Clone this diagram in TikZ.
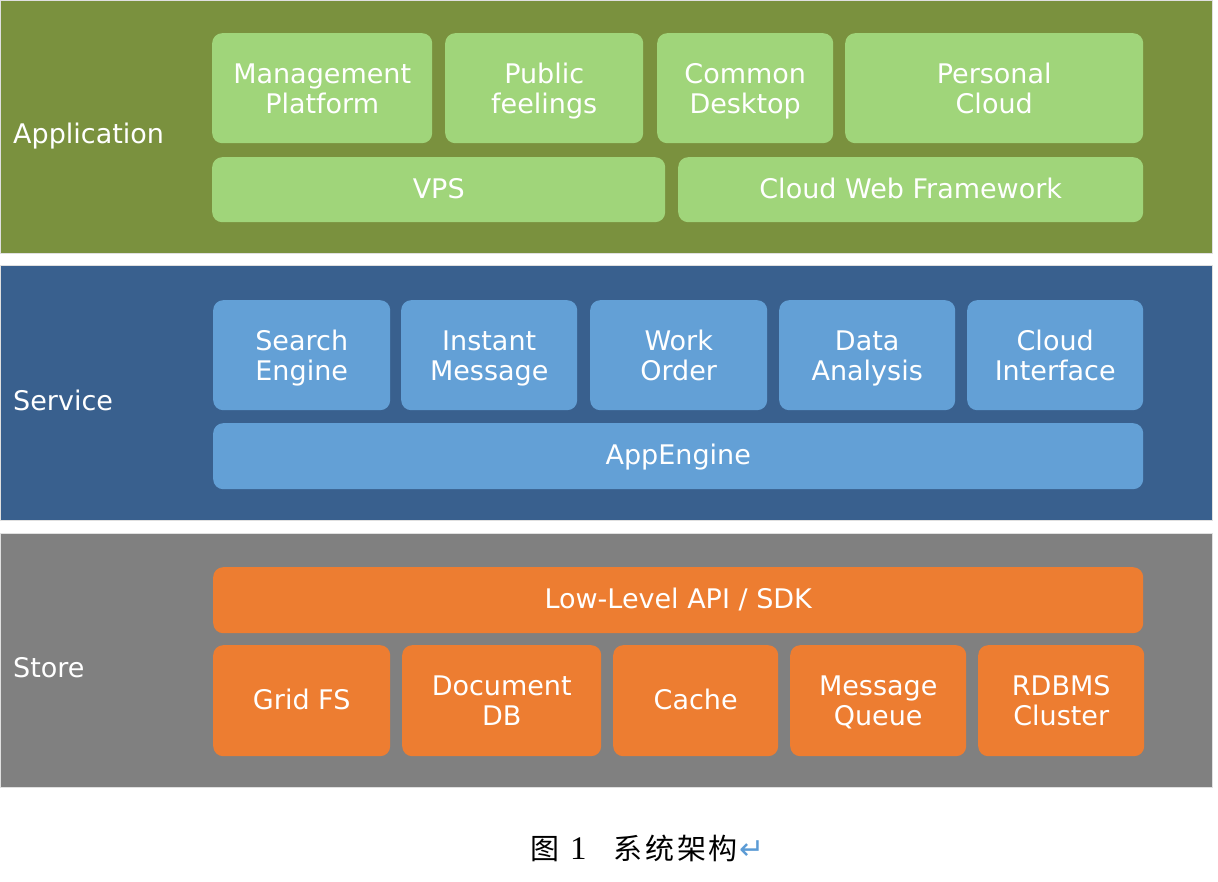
\documentclass[tikz,border=0pt]{standalone}
\usepackage{fontspec}
\setmainfont{DejaVu Sans}
\newfontfamily\cjk{Noto Sans CJK SC}
\newfontfamily\serifnum{Liberation Serif}
\newfontfamily\symfont{DejaVu Sans}
\definecolor{appband}{HTML}{7A913E}
\definecolor{appbox}{HTML}{A0D57A}
\definecolor{svcband}{HTML}{39608E}
\definecolor{svcbox}{HTML}{63A0D6}
\definecolor{stoband}{HTML}{808080}
\definecolor{stobox}{HTML}{ED7D31}
\definecolor{retblue}{HTML}{5B9BD5}
\newcommand\boxfont{\fontsize{27}{30}\selectfont}
\newcommand\bstrut{\vrule height24pt depth7pt width0pt\relax}
\newcommand\topstrut{\vrule height27pt depth0pt width0pt\relax}
\newcommand\botstrut{\vrule height0pt depth7pt width0pt\relax}
% single-line box
\newcommand\bx[7]{\node[box,one,#1,minimum width={#5pt-#3pt},minimum height={#6pt-#4pt}] (#2) at (#3,#4) {#7};}
% two-line box
\newcommand\bxx[8]{\node[box,#1,minimum width={#5pt-#3pt},minimum height={#6pt-#4pt}] (#2) at (#3,#4) {\topstrut#7\\#8\botstrut};}
\newcommand\band[6]{\node[bandbox,fill=#1,minimum width={#5pt-#3pt},minimum height={#6pt-#4pt}] (#2) at (#3,#4) {};}
\tikzset{
  box/.style={rounded corners=10pt, inner sep=0pt, anchor=north west, align=center, text=white, font=\boxfont},
  one/.style={execute at begin node=\bstrut, execute at end node=\bstrut},
  bandbox/.style={inner sep=0pt, anchor=north west, draw=black!12, line width=1pt},
  layerlabel/.style={anchor=west, text=white, font=\boxfont, inner sep=0pt,
    execute at begin node=\bstrut},
}
\begin{document}
\begin{tikzpicture}[x=1pt,y=-1pt]
\useasboundingbox[fill=white] (0,0) rectangle (1218,882);
% bands
\band{appband}{appL}{0}{0}{1212}{253}
\band{svcband}{svcL}{0}{265}{1212}{520}
\band{stoband}{stoL}{0}{533}{1212}{787}
% layer labels
\node[layerlabel] (lapp) at (13,135) {Application};
\node[layerlabel] (lsvc) at (13,402) {Service};
\node[layerlabel] (lsto) at (13,669) {Store};
% application
\bxx{fill=appbox}{mgmt}{212}{33}{432}{143}{Management}{Platform}
\bxx{fill=appbox}{pub}{445}{33}{643}{143}{Public}{feelings}
\bxx{fill=appbox}{desk}{657}{33}{833}{143}{Common}{Desktop}
\bxx{fill=appbox}{pcloud}{845}{33}{1143}{143}{Personal}{Cloud}
\bx{fill=appbox}{vps}{212}{157}{665}{222}{VPS}
\bx{fill=appbox}{cwf}{678}{157}{1143}{222}{Cloud Web Framework}
% service
\bxx{fill=svcbox}{search}{213}{300}{390}{410}{Search}{Engine}
\bxx{fill=svcbox}{im}{401}{300}{577}{410}{Instant}{Message}
\bxx{fill=svcbox}{wo}{590}{300}{767}{410}{Work}{Order}
\bxx{fill=svcbox}{da}{779}{300}{955}{410}{Data}{Analysis}
\bxx{fill=svcbox}{ci}{967}{300}{1143}{410}{Cloud}{Interface}
\bx{fill=svcbox}{ae}{213}{423}{1143}{489}{AppEngine}
% store
\bx{fill=stobox}{api}{213}{567}{1143}{633}{Low-Level API / SDK}
\bx{fill=stobox}{gfs}{213}{645}{390}{756}{Grid FS}
\bxx{fill=stobox}{ddb}{402}{645}{601}{756}{Document}{DB}
\bx{fill=stobox}{cache}{613}{645}{778}{756}{Cache}
\bxx{fill=stobox}{mq}{790}{645}{966}{756}{Message}{Queue}
\bxx{fill=stobox}{rdb}{978}{645}{1144}{756}{RDBMS}{Cluster}
% caption
\node[anchor=west, inner sep=0pt, font=\fontsize{29}{32}\selectfont] (cap) at (530,848)
  {\cjk 图\hspace{11pt}{\serifnum\fontsize{33}{33}\selectfont 1}\hspace{27pt}系\hspace{2.7pt}统\hspace{2.7pt}架\hspace{2.7pt}构\hspace{2pt}{\symfont\color{retblue}\fontsize{30}{30}\selectfont ↵}};
\end{tikzpicture}
\end{document}
